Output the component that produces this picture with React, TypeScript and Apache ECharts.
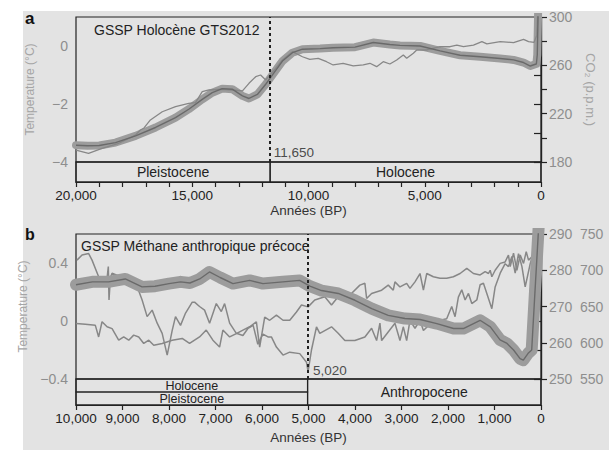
import React, { useEffect, useRef } from 'react';
import * as echarts from 'echarts';

const FONT = '"Liberation Sans", Arial, Helvetica, sans-serif';

// ---------- Panel a : 20,000 BP -> 0 ----------
const tempA: [number, number][] = [
  [20000, -3.42], [19500, -3.44], [19000, -3.43], [18300, -3.33], [17440, -3.1], [16580, -2.81],
  [15720, -2.47], [15150, -2.18], [14570, -1.84], [14140, -1.61], [13710, -1.47], [13280, -1.49],
  [12840, -1.72], [12560, -1.81], [12200, -1.67], [11840, -1.32], [11480, -0.92], [11120, -0.52],
  [10690, -0.23], [10260, -0.11], [9500, -0.09], [8940, -0.06], [8000, -0.04], [7215, 0.12],
  [6500, 0.05], [6065, 0.02], [5200, 0], [4340, -0.17], [3480, -0.32], [2620, -0.37], [1760, -0.43],
  [1180, -0.48], [750, -0.57], [460, -0.69], [245, -0.63], [200, -0.62], [160, -0.3], [120, 1.3],
];
const co2A: [number, number][] = [
  [20000, 189.9], [19460, 187.2], [18880, 191.3], [18160, 195.5], [17440, 202.3], [17230, 206.5],
  [17090, 207.9], [16800, 214.8], [16290, 221.6], [15720, 225.8], [15150, 228.6], [14860, 229.1],
  [14570, 238.2], [14280, 239.6], [13710, 240.2], [13280, 239.6], [12840, 238.9], [12560, 245.1],
  [12270, 250.6], [12060, 252], [11840, 247.9], [11480, 256.1], [11120, 264.4], [10690, 271.3],
  [10260, 267.1], [9944, 265], [9580, 265.8], [9224, 263], [8940, 260.3], [8510, 261.7], [8077, 259.5],
  [7645, 260.3], [7358, 261.7], [7069, 258.9], [6785, 263], [6500, 261.1], [6207, 264.4], [5922, 268.6],
  [5776, 265.8], [5490, 270], [5345, 272.7], [4914, 272.7], [4340, 275.4], [3910, 275.4], [3620, 276.8],
  [3336, 275.4], [2905, 276.8], [2543, 279.6], [2328, 277.7], [1754, 279.6], [1181, 278.8], [750, 281.5],
  [534, 279.6], [300, 279], [180, 285], [130, 310],
];
const epochsA = [
  { name: 'Pleistocene', from: 20000, to: 11650 },
  { name: 'Holocene', from: 11650, to: 0 },
];
const gsspA = 11650;
const gsspALabel = '11,650';
const gsspALabelAt = -3.67;
const titleA = 'GSSP Holocène GTS2012';

// ---------- Panel b : 10,000 BP -> 0 ----------
const tempB: [number, number][] = [
  [10000, 0.25], [9650, 0.27], [9300, 0.27], [8940, 0.29], [8580, 0.235], [8300, 0.24], [8000, 0.258],
  [7750, 0.27], [7550, 0.262], [7340, 0.29], [7130, 0.338], [6900, 0.3], [6625, 0.258], [6265, 0.28],
  [5980, 0.258], [5550, 0.27], [5190, 0.28], [4970, 0.24], [4720, 0.21], [4360, 0.19], [4000, 0.143],
  [3640, 0.085], [3285, 0.039], [2925, 0.017], [2600, 0.01], [2240, -0.018], [1880, -0.052],
  [1670, -0.052], [1310, 0.005], [1090, -0.04], [880, -0.13], [730, -0.155], [590, -0.2], [450, -0.26],
  [380, -0.27], [270, -0.22], [200, -0.2], [130, 0.2], [50, 0.65],
];
const co2B: [number, number][] = [
  [10000, 265.3], [9800, 265.1], [9584, 264.8], [9513, 261.6], [9440, 265.8], [9332, 264.4], [9224, 263.9],
  [9082, 260.7], [8974, 261.6], [8866, 260.7], [8759, 262.1], [8651, 261.6], [8543, 259.8], [8435, 260.7],
  [8328, 259.3], [8147, 259.8], [7931, 260.7], [7716, 261.2], [7558, 259.8], [7343, 261.6], [7199, 263.5],
  [7056, 260.7], [6912, 258.8], [6841, 263.5], [6696, 261.6], [6552, 262.5], [6410, 263.5], [6265, 264.4],
  [6121, 265.8], [6050, 258.8], [5942, 267.1], [5834, 266.2], [5690, 267.6], [5548, 266.2], [5403, 266.2],
  [5259, 268.5], [5151, 270.4], [5009, 269.9], [4865, 271.8], [4650, 272.7], [4505, 270.4], [4362, 272.7],
  [4147, 272.7], [3895, 275.9], [3787, 276.4], [3750, 272.2], [3643, 273.6], [3427, 274.5], [3285, 275.9],
  [3177, 274.5], [3141, 276.8], [3033, 275.4], [2889, 276.4], [2818, 275], [2710, 276.8], [2602, 279.1],
  [2529, 274.5], [2457, 279.1], [2315, 278.2], [2172, 277.8], [2028, 277.8], [1884, 278.2], [1740, 279.1],
  [1596, 280.5], [1453, 279.1], [1309, 278.7], [1201, 279.6], [1130, 279.1], [1093, 280], [1057, 278.2],
  [986, 280], [878, 281.9], [771, 282.3], [700, 284.2], [662, 281], [591, 284.7], [518, 280], [447, 284.2],
  [376, 281.9], [318, 285.1], [268, 282.8], [195, 283.7],
];
const ch4B: [number, number][] = [
  [9978, 714], [9870, 721], [9728, 723], [9655, 714], [9513, 691], [9340, 684], [9305, 705], [9290, 659],
  [9260, 690], [9224, 696], [9000, 690], [8800, 684], [8700, 680], [8578, 659], [8470, 636], [8362, 645],
  [8254, 627], [8147, 613], [8039, 583], [7931, 617], [7860, 636], [7752, 624], [7644, 641], [7500, 656],
  [7450, 656], [7343, 650], [7235, 645], [7127, 627], [6983, 654], [6875, 643], [6804, 654], [6696, 627],
  [6552, 613], [6410, 610], [6300, 620], [6190, 624], [6090, 598], [5980, 612], [5871, 608], [5798, 608],
  [5690, 594], [5548, 583], [5403, 587], [5188, 585], [5043, 573], [5009, 560], [4936, 590], [4828, 622],
  [4757, 613], [4505, 622], [4362, 613], [4218, 603], [4003, 603], [3787, 608], [3643, 620], [3535, 603],
  [3464, 627], [3427, 603], [3141, 627], [3033, 603], [2962, 622], [2889, 603], [2818, 631], [2710, 620],
  [2602, 631], [2529, 617], [2400, 625], [2172, 631], [2028, 633], [1920, 650], [1848, 636], [1777, 663],
  [1704, 673], [1632, 659], [1560, 668], [1488, 654], [1380, 659], [1309, 680], [1238, 682], [1165, 668],
  [1057, 647], [986, 677], [878, 696], [771, 709], [700, 705], [626, 719], [555, 696], [484, 723],
  [410, 705], [340, 677], [232, 709], [180, 720],
];
// row: 2 = upper row, 1 = lower row, 0 = full height
const epochsB = [
  { name: 'Holocene', from: 10000, to: 5020, row: 2 },
  { name: 'Pleistocene', from: 10000, to: 5020, row: 1 },
  { name: 'Anthropocene', from: 5020, to: 0, row: 0 },
];
const gsspB = 5020;
const gsspBLabel = '5,020';
const gsspBLabelAt = -0.34;
const titleB = 'GSSP Méthane anthropique précoce';

const INK = '#222';
const GREY_TXT = '#8e8e8e';
const BAND = '#9c9c9c';
const CORE = '#6a6a6a';
const THIN = '#878787';

const minus = (s: string) => s.replace('-', '\u2212');

function buildOption(): any {
  const gridBase = { left: 76, width: 465, show: true, borderColor: INK, borderWidth: 1.2, backgroundColor: 'transparent', containLabel: false };
  const hidX = { type: 'value', inverse: true, axisLine: { show: false }, axisTick: { show: false }, axisLabel: { show: false }, splitLine: { show: false } };
  const bottomX = (max: number, fmt: (v: number) => string, gap: number) => ({
    type: 'value', inverse: true, min: 0, max, interval: 1000,
    axisLine: { show: true, lineStyle: { color: INK, width: 1.2 } },
    axisTick: { show: true, length: 5, lineStyle: { color: INK, width: 1.2 } },
    axisLabel: { color: INK, fontSize: 13.5, margin: 6, formatter: fmt, fontFamily: FONT },
    splitLine: { show: false },
    name: 'Années (BP)', nameLocation: 'middle', nameGap: gap,
    nameTextStyle: { color: '#333', fontSize: 13.5, fontFamily: FONT },
  });
  const tickY = (pos: 'left' | 'right', extra: any) => ({
    type: 'value', position: pos,
    axisLine: { show: true, lineStyle: { color: INK, width: 1.2 } },
    axisTick: { show: true, length: 7, lineStyle: { color: INK, width: 1.2 } },
    splitLine: { show: false },
    ...extra,
    axisLabel: { color: GREY_TXT, fontSize: 14, margin: 8, fontFamily: FONT, ...(extra.axisLabel || {}) },
  });
  const hidY = { type: 'value', min: 0, show: false, splitLine: { show: false } };
  const markAreaLabelA = { show: true, position: 'inside', color: INK, fontSize: 14, fontFamily: FONT };
  const markAreaLabelB = { show: true, position: 'inside', color: INK, fontSize: 12.5, lineHeight: 12, fontFamily: FONT };
  const areaStyle = { color: 'rgba(0,0,0,0)', borderColor: INK, borderWidth: 1.2 };
  const dotted = { type: [3, 3], width: 2, color: INK };

  return {
    animation: false,
    textStyle: { fontFamily: FONT },
    grid: [
      { ...gridBase, top: 17, height: 145 },
      { ...gridBase, top: 162, height: 20 },
      { ...gridBase, top: 234, height: 145 },
      { ...gridBase, top: 379, height: 26 },
    ],
    xAxis: [
      { ...hidX, gridIndex: 0, min: 0, max: 20000 },
      { ...bottomX(20000, (v: number) => (v % 5000 === 0 ? v.toLocaleString('en-US') : ''), 21), gridIndex: 1 },
      { ...hidX, gridIndex: 2, min: 0, max: 10000 },
      { ...bottomX(10000, (v: number) => v.toLocaleString('en-US'), 25), gridIndex: 3 },
    ],
    yAxis: [
      tickY('left', {
        gridIndex: 0, min: -4, max: 1, interval: 1,
        axisLabel: { formatter: (v: number) => (v % 2 === 0 ? minus(String(v)) : '') },
        name: 'Temperature (°C)', nameLocation: 'middle', nameGap: 40,
        nameTextStyle: { color: '#a5a5a5', fontSize: 12, fontFamily: FONT },
      }),
      tickY('right', {
        gridIndex: 0, min: 180, max: 300, interval: 20,
        axisLabel: { formatter: (v: number) => ((v - 180) % 40 === 0 ? String(v) : '') },
        axisTick: { show: true, length: 6, lineStyle: { color: INK, width: 1.2 } },
        name: 'CO\u2082 (p.p.m.)', nameLocation: 'middle', nameGap: 43, nameRotate: -90,
        nameTextStyle: { color: '#a5a5a5', fontSize: 13, fontFamily: FONT },
      }),
      { ...hidY, gridIndex: 1, max: 1 },
      tickY('left', {
        gridIndex: 2, min: -0.4, max: 0.6, interval: 0.2,
        axisLabel: {
          formatter: (v: number) => {
            const r = Math.round(v * 10);
            return r === 4 ? '0.4' : r === 0 ? '0' : r === -4 ? '\u22120.4' : '';
          },
        },
        name: 'Temperature (°C)', nameLocation: 'middle', nameGap: 40,
        nameTextStyle: { color: '#a5a5a5', fontSize: 12, fontFamily: FONT },
      }),
      tickY('right', {
        gridIndex: 2, min: 250, max: 290, interval: 10,
        axisTick: { show: true, length: 6, lineStyle: { color: INK, width: 1.2 } },
      }),
      {
        type: 'value', gridIndex: 2, position: 'right', min: 550, max: 750, interval: 50,
        axisLine: { show: false }, axisTick: { show: false }, splitLine: { show: false },
        axisLabel: { color: GREY_TXT, fontSize: 14, margin: 39, fontFamily: FONT },
      },
      { ...hidY, gridIndex: 3, max: 2 },
    ],
    series: [
      // ---- panel a
      {
        type: 'line', xAxisIndex: 0, yAxisIndex: 0, data: tempA, symbol: 'none', z: 2,
        lineStyle: { color: BAND, width: 8, cap: 'round', join: 'round' },
        markLine: { silent: true, symbol: ['none', 'none'], label: { show: false }, lineStyle: dotted, data: [{ xAxis: gsspA }] },
      },
      { type: 'line', xAxisIndex: 0, yAxisIndex: 1, data: co2A, symbol: 'none', z: 3, lineStyle: { color: THIN, width: 1.3 } },
      { type: 'line', xAxisIndex: 0, yAxisIndex: 0, data: tempA, symbol: 'none', z: 4, lineStyle: { color: CORE, width: 1.4 } },
      {
        type: 'scatter', xAxisIndex: 0, yAxisIndex: 0, data: [[gsspA, gsspALabelAt]], symbolSize: 1,
        itemStyle: { color: 'rgba(0,0,0,0)' }, z: 5,
        label: { show: true, position: 'right', distance: 3, formatter: gsspALabel, color: INK, fontSize: 13.5, fontFamily: FONT },
      },
      {
        type: 'line', xAxisIndex: 1, yAxisIndex: 2, data: [[0, 0]], symbol: 'none', lineStyle: { width: 0, opacity: 0 },
        markArea: {
          silent: true, label: markAreaLabelA, itemStyle: areaStyle,
          data: epochsA.map((e) => [{ name: e.name, xAxis: e.from, yAxis: 0 }, { xAxis: e.to, yAxis: 1 }]),
        },
      },
      // ---- panel b
      {
        type: 'line', xAxisIndex: 2, yAxisIndex: 4, data: co2B, symbol: 'none', z: 2, lineStyle: { color: THIN, width: 1.5 },
      },
      {
        type: 'line', xAxisIndex: 2, yAxisIndex: 5, data: ch4B, symbol: 'none', z: 2, lineStyle: { color: THIN, width: 1.5 },
      },
      {
        type: 'line', xAxisIndex: 2, yAxisIndex: 3, data: tempB, symbol: 'none', z: 3,
        lineStyle: { color: BAND, width: 12, cap: 'round', join: 'round' },
        markLine: { silent: true, symbol: ['none', 'none'], label: { show: false }, lineStyle: dotted, data: [{ xAxis: gsspB }] },
      },
      { type: 'line', xAxisIndex: 2, yAxisIndex: 3, data: tempB, symbol: 'none', z: 4, lineStyle: { color: CORE, width: 1.4 } },
      {
        type: 'scatter', xAxisIndex: 2, yAxisIndex: 3, data: [[gsspB, gsspBLabelAt]], symbolSize: 1,
        itemStyle: { color: 'rgba(0,0,0,0)' }, z: 5,
        label: { show: true, position: 'right', distance: 5, formatter: gsspBLabel, color: INK, fontSize: 13.5, fontFamily: FONT },
      },
      {
        type: 'line', xAxisIndex: 3, yAxisIndex: 6, data: [[0, 0]], symbol: 'none', lineStyle: { width: 0, opacity: 0 },
        markArea: {
          silent: true, label: markAreaLabelB, itemStyle: areaStyle,
          data: epochsB.map((e) => {
            const lo = e.row === 2 ? 1 : 0;
            const hi = e.row === 1 ? 1 : 2;
            const item: any = { name: e.name, xAxis: e.from, yAxis: lo };
            if (e.row === 0) item.label = { fontSize: 14 };
            return [item, { xAxis: e.to, yAxis: hi }];
          }),
        },
      },
    ],
    graphic: [
      { type: 'text', x: 25, y: 18, style: { text: 'a', fill: '#111', font: `bold 17px ${FONT}`, verticalAlign: 'middle', textVerticalAlign: 'middle' } },
      { type: 'text', x: 25, y: 234.5, style: { text: 'b', fill: '#111', font: `bold 16px ${FONT}`, verticalAlign: 'middle', textVerticalAlign: 'middle' } },
      { type: 'text', x: 94, y: 30, style: { text: titleA, fill: INK, font: `14px ${FONT}`, verticalAlign: 'middle', textVerticalAlign: 'middle' } },
      { type: 'text', x: 81, y: 245.5, style: { text: titleB, fill: INK, font: `14px ${FONT}`, verticalAlign: 'middle', textVerticalAlign: 'middle' } },
    ],
  };
}

export default function App() {
  const ref = useRef<HTMLDivElement>(null);
  useEffect(() => {
    const chart = echarts.init(ref.current as HTMLDivElement, null, { renderer: 'svg' });
    chart.setOption(buildOption());
    return () => chart.dispose();
  }, []);
  return (
    <div style={{ position: 'fixed', left: 0, top: 0, width: 609, height: 450, background: '#fff' }}>
      <div style={{ position: 'absolute', left: 23, top: 11, width: 586, height: 439, background: '#e3e3e3' }} />
      <div ref={ref} style={{ position: 'absolute', left: 0, top: 0, width: 609, height: 450 }} />
    </div>
  );
}
